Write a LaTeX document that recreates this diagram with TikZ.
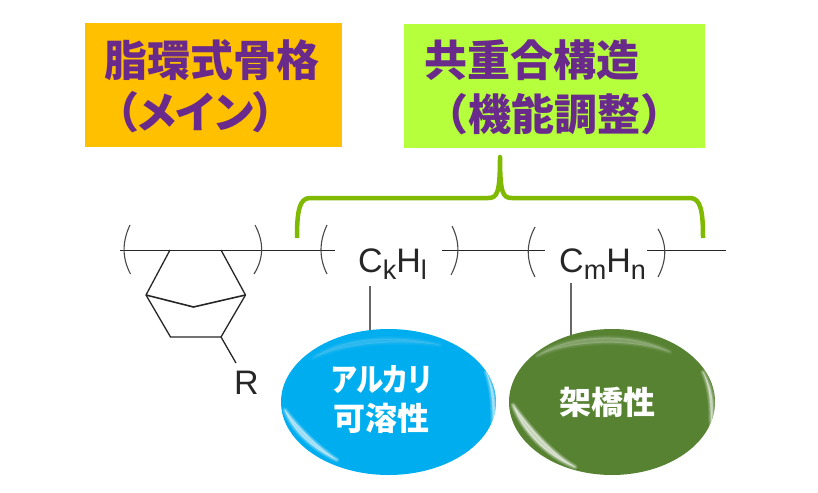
\documentclass[tikz,border=0pt]{standalone}
\usepackage{fontspec}
\usetikzlibrary{shapes.geometric}
\newfontfamily\cjk{Noto Sans CJK JP}
\newfontfamily\cjkp[RawFeature=+palt]{Noto Sans CJK JP}
\setmainfont{Liberation Sans}
\definecolor{ttl}{HTML}{6A2A8C}
\definecolor{orangebox}{HTML}{FFC000}
\definecolor{limebox}{HTML}{B6FF3C}
\definecolor{bracegreen}{HTML}{7FBA00}
\definecolor{chem}{HTML}{262626}
\definecolor{skyb}{HTML}{00AEEF}
\definecolor{leaf}{HTML}{578232}
\tikzset{x=1pt,y=-1pt,
 ttltext/.style={text=ttl,font=\cjk\bfseries\fontsize{43}{43}\selectfont,anchor=west,inner sep=0pt},
 ttlp/.style={ttltext,font=\cjkp\bfseries\fontsize{43}{43}\selectfont},
 bond/.style={draw=chem,line width=1.3pt,line join=round},
 paren/.style={draw=chem!85,line width=1.1pt},
 chain/.style={draw=chem,line width=1pt},
 stem/.style={draw=chem!70,line width=1.2pt},
 lab/.style={text=white,font=\cjk\bfseries\fontsize{32}{39}\selectfont,align=center,inner sep=0pt},
 formula/.style={text=chem,font=\fontsize{34}{34}\selectfont,anchor=base west,inner sep=0pt},
}
\newcommand{\sbs}[1]{\raisebox{-7pt}{\fontsize{27}{27}\selectfont #1}}
% soft tapered highlight: one crescent filled several times with a shrinking outline
\newcommand{\softc}[2]{\foreach \w in {5,3,1.5,0.3}{\filldraw[white,opacity=#2,line width=\w pt,line join=round] #1 -- cycle;}}
\begin{document}
\begin{tikzpicture}
\useasboundingbox (0,0) rectangle (818,492);
\node[fill=orangebox,minimum width=257pt,minimum height=124pt,inner sep=0pt] (boxa) at (213.5,85) {};
\node[fill=limebox,minimum width=301pt,minimum height=124pt,inner sep=0pt] (boxb) at (554.5,86) {};
\node[ttltext] (a1) at (104,60) {脂環式骨格};
\node[ttlp] (a2) at (116,112) {（メイン）};
\node[ttltext] (b1) at (424,60) {共重合構造};
\node[ttltext] (b2) at (425,114) {（機能調整）};
% brace
\coordinate (bl) at (297,238);
\coordinate (br) at (703,238);
\coordinate (tip) at (500,157);
\draw[bracegreen,line width=4.5pt,line join=round]
 (bl) .. controls (297,212) and (299,198) .. (310,198) -- (488,198)
 .. controls (497,198) and (500,194) .. (tip)
 .. controls (500,194) and (503,198) .. (512,198) -- (690,198)
 .. controls (701,198) and (703,212) .. (br);
% backbone
\coordinate (m1) at (120,250); \coordinate (m2) at (335,250);
\coordinate (m3) at (442,250); \coordinate (m4) at (545,250);
\coordinate (m5) at (647,250); \coordinate (m6) at (726,250);
\draw[chain] (m1)--(m2) (m3)--(m4) (m5)--(m6);
% parens
\draw[paren] (130,225) .. controls (122,242) and (122,258) .. (130.5,274);
\draw[paren] (255,225) .. controls (264,242) and (264,258) .. (254,274);
\draw[paren] (327,225) .. controls (319,242) and (319,258) .. (327,274);
\draw[paren] (452,226) .. controls (460,242) and (460,258) .. (451,275);
\draw[paren] (535,227) .. controls (526,244) and (526,260) .. (535,277);
\draw[paren] (658,229) .. controls (667,244) and (667,260) .. (658,277);
% ring
\coordinate (r1) at (170,250); \coordinate (r2) at (221,250);
\coordinate (r3) at (245.5,295); \coordinate (r4) at (221,337);
\coordinate (r5) at (170.5,337); \coordinate (r6) at (146,295);
\coordinate (r7) at (193.5,307);
\draw[bond] (r1)--(r6)--(r5)--(r4)--(r3)--(r2);
\draw[bond,line width=1.6pt] (r6)--(r7)--(r3);
\node[formula] (rr) at (234,394) {R};
\coordinate (rb) at (236,363);
\draw[bond] (r4)--(rb);
% formulas
\node[formula] (f1) at (358,272) {C\sbs{k}H\sbs{l}};
\node[formula] (f2) at (559,272) {C\sbs{m}H\sbs{n}};
% ellipses
\node[ellipse,minimum width=215pt,minimum height=146pt,inner sep=0pt] (e1) at (388.5,402) {};
\node[ellipse,minimum width=206pt,minimum height=146pt,inner sep=0pt] (e2) at (612,402) {};
\coordinate (s1) at (370,286); \coordinate (s2) at (571,283);
\draw[stem] (s1)--(370,336);
\draw[stem] (s2)--(571,336);
\fill[skyb] (e1.center) ellipse [x radius=107.5,y radius=73];
\fill[leaf] (e2.center) ellipse [x radius=103,y radius=73];
% highlights
\begin{scope}
\clip (e1.center) ellipse [x radius=107.5,y radius=73];
\softc{(285,410) .. controls (293,432) and (315,450) .. (337,460) .. controls (318,447) and (300,430) .. (285,410)}{.16}
\softc{(313,358) .. controls (340,338) and (395,333) .. (440,345) .. controls (395,339) and (345,343) .. (313,358)}{.035}
\softc{(486,372) .. controls (494,388) and (497,405) .. (493,425) .. controls (493,405) and (492,388) .. (486,372)}{.14}
\end{scope}
\begin{scope}
\clip (e2.center) ellipse [x radius=103,y radius=73];
\softc{(513,405) .. controls (522,430) and (545,455) .. (575,467) .. controls (550,452) and (530,428) .. (513,405)}{.2}
\softc{(537,356) .. controls (565,335) and (630,330) .. (670,352) .. controls (630,338) and (570,340) .. (537,356)}{.06}
\softc{(703,372) .. controls (712,388) and (715,405) .. (711,425) .. controls (711,405) and (710,388) .. (703,372)}{.16}
\end{scope}
\node[lab] (t1) at (381.5,400) {\scalebox{.855}[1]{\cjkp アルカリ}\\可溶性};
\node[lab] (t2) at (607,402) {架橋性};
\end{tikzpicture}
\end{document}
